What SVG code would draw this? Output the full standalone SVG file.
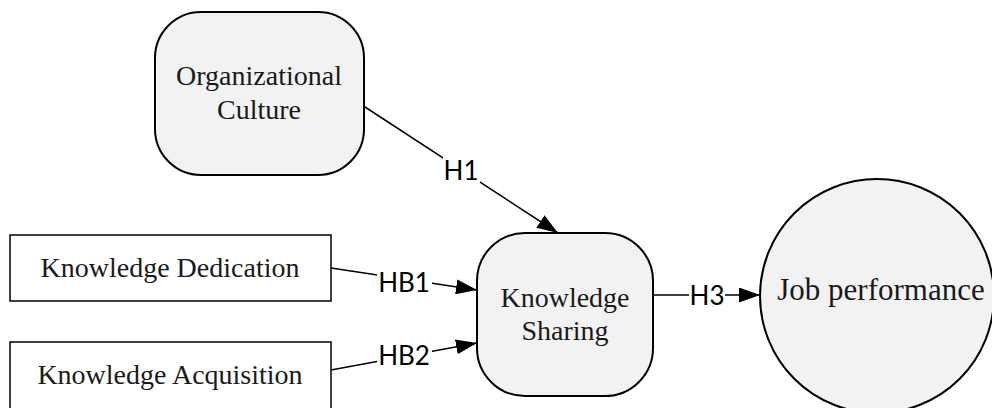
<svg xmlns="http://www.w3.org/2000/svg" width="992" height="408" viewBox="0 0 992 408">
  <defs>
    <marker id="arrow" viewBox="0 0 21 15" refX="21" refY="7.5" markerWidth="21" markerHeight="15" markerUnits="userSpaceOnUse" orient="auto">
      <path d="M0,0 L21,7.5 L0,15 Z" fill="#000"/>
    </marker>
    <style>
      .node { fill: #f2f2f2; stroke: #000; stroke-width: 2; }
      .box { fill: #fff; stroke: #000; stroke-width: 1.5; }
      .t { font-family: "Liberation Serif", "Times New Roman", serif; font-size: 28px; fill: #1a1a1a; text-anchor: middle; }
      .edge { stroke: #000; stroke-width: 1.5; fill: none; }
      .lbl { font-family: Lato, "Liberation Sans", sans-serif; font-size: 26px; fill: #000; text-anchor: middle; dominant-baseline: central; }
      .lblbg { fill: #fff; }
    </style>
  </defs>
  <rect width="992" height="408" fill="#fff"/>

  <g id="connectors">
    <line class="edge" x1="365" y1="107" x2="558" y2="233" marker-end="url(#arrow)"/>
    <rect class="lblbg" x="443" y="157" width="37" height="26"/>
    <text class="lbl" x="461" y="170">H1</text>

    <line class="edge" x1="331" y1="268" x2="477" y2="290" marker-end="url(#arrow)"/>
    <rect class="lblbg" x="377" y="269" width="55" height="26"/>
    <text class="lbl" x="404" y="282">HB1</text>

    <line class="edge" x1="331" y1="370" x2="477" y2="343" marker-end="url(#arrow)"/>
    <rect class="lblbg" x="377" y="342" width="55" height="26"/>
    <text class="lbl" x="404" y="355">HB2</text>

    <line class="edge" x1="653" y1="295" x2="760" y2="295" marker-end="url(#arrow)"/>
    <rect class="lblbg" x="689" y="282" width="36" height="26"/>
    <text class="lbl" x="707" y="295">H3</text>
  </g>

  <g id="organizational-culture">
    <rect class="node" x="155" y="12" width="209" height="163" rx="46" ry="46"/>
    <text class="t" x="259" y="85">Organizational</text>
    <text class="t" x="259" y="119">Culture</text>
  </g>

  <g id="knowledge-dedication">
    <rect class="box" x="10" y="235" width="321" height="66"/>
    <text class="t" x="170" y="277">Knowledge Dedication</text>
  </g>

  <g id="knowledge-acquisition">
    <rect class="box" x="10" y="342" width="321" height="70"/>
    <text class="t" x="170" y="384">Knowledge Acquisition</text>
  </g>

  <g id="knowledge-sharing">
    <rect class="node" x="477" y="233" width="176" height="163" rx="48" ry="48"/>
    <text class="t" x="565" y="307">Knowledge</text>
    <text class="t" x="565" y="340">Sharing</text>
  </g>

  <g id="job-performance">
    <circle class="node" cx="877" cy="296" r="117"/>
    <text class="t" x="881" y="300" style="font-size:31px">Job performance</text>
  </g>
</svg>
